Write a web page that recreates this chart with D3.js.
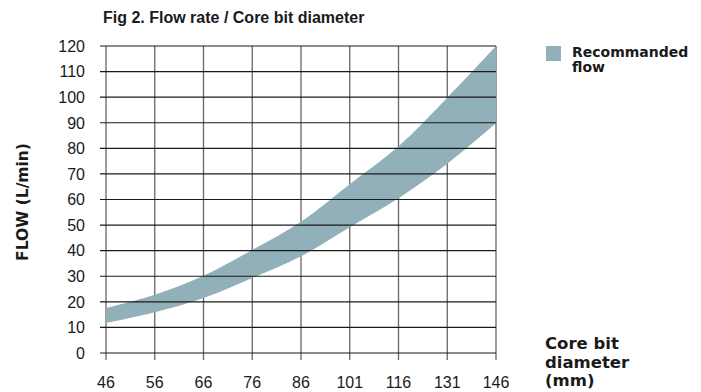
<!DOCTYPE html>
<html>
<head>
<meta charset="utf-8">
<script src="https://cdn.jsdelivr.net/npm/d3@7"></script>
<style>
  html, body { margin: 0; padding: 0; background: #fff; }
  svg { display: block; font-family: "Liberation Sans", Arial, sans-serif; }
</style>
</head>
<body>
<div id="grafico"></div>
<script>
// diametros de corona (mm), espaciados como categorias
const diametros = ["46", "56", "66", "76", "86", "101", "116", "131", "146"];

// caudal recomendado (L/min): limite superior e inferior de la banda
const caudalMax = [17.6, 22.8, 30.2, 40.3, 51.3, 66, 80.8, 99.8, 120];
const caudalMin = [11.7, 15.9, 21.5, 29.3, 37.8, 49.2, 60.5, 74, 89.8];

const ticksY = [0, 10, 20, 30, 40, 50, 60, 70, 80, 90, 100, 110, 120];

const width = 701;
const height = 392;
const margen = { top: 46, right: 205, bottom: 39, left: 106 };
const colorBanda = "#91b0b9";
const negrita = "'DejaVu Sans', sans-serif";

const svg = d3.select("#grafico")
  .append("svg")
  .attr("width", width)
  .attr("height", height);

const x = d3.scalePoint()
  .domain(diametros)
  .range([margen.left, width - margen.right]);

const y = d3.scaleLinear()
  .domain([0, 120])
  .range([height - margen.bottom, margen.top]);

// grilla vertical (gris) con marca bajo el eje
svg.append("g")
  .selectAll("line")
  .data(diametros)
  .join("line")
  .attr("x1", d => x(d))
  .attr("x2", d => x(d))
  .attr("y1", y(120))
  .attr("y2", y(0) + 7)
  .attr("stroke", "#666")
  .attr("stroke-width", 1.3);

// banda de caudal recomendado
const datosBanda = diametros.map((d, i) => ({
  d,
  max: caudalMax[i],
  min: caudalMin[i]
}));

const area = d3.area()
  .x(p => x(p.d))
  .y0(p => y(p.min))
  .y1(p => y(p.max))
  .curve(d3.curveCatmullRom);

svg.append("path")
  .datum(datosBanda)
  .attr("d", area)
  .attr("fill", colorBanda);

// grilla horizontal (negra) con marca a la izquierda
svg.append("g")
  .selectAll("line")
  .data(ticksY)
  .join("line")
  .attr("x1", x("46") - 6)
  .attr("x2", x("146"))
  .attr("y1", d => y(d))
  .attr("y2", d => y(d))
  .attr("stroke", "#1a1a1a")
  .attr("stroke-width", 1.2);

// etiquetas eje Y
svg.append("g")
  .selectAll("text")
  .data(ticksY)
  .join("text")
  .attr("x", 85)
  .attr("y", d => y(d))
  .attr("dy", "0.36em")
  .attr("text-anchor", "end")
  .attr("font-size", 16)
  .attr("fill", "#1a1a1a")
  .text(d => d);

// etiquetas eje X
svg.append("g")
  .selectAll("text")
  .data(diametros)
  .join("text")
  .attr("x", d => x(d))
  .attr("y", 388)
  .attr("text-anchor", "middle")
  .attr("font-size", 16)
  .attr("fill", "#1a1a1a")
  .text(d => d);

// titulo
svg.append("text")
  .attr("x", 103)
  .attr("y", 23)
  .attr("font-size", 16)
  .attr("font-weight", "bold")
  .attr("fill", "#1a1a1a")
  .text("Fig 2. Flow rate / Core bit diameter");

// titulo eje Y
svg.append("text")
  .attr("transform", "translate(28,202) rotate(-90)")
  .attr("text-anchor", "middle")
  .attr("font-family", negrita)
  .attr("font-size", 15.5)
  .attr("font-weight", "bold")
  .attr("fill", "#1a1a1a")
  .text("FLOW (L/min)");

// titulo eje X en tres lineas
svg.append("text")
  .attr("font-family", negrita)
  .attr("font-size", 16.5)
  .attr("font-weight", "bold")
  .attr("fill", "#1a1a1a")
  .selectAll("tspan")
  .data(["Core bit", "diameter", "(mm)"])
  .join("tspan")
  .attr("x", 545)
  .attr("y", (d, i) => 349 + i * 18.5)
  .text(d => d);

// leyenda
svg.append("rect")
  .attr("x", 546)
  .attr("y", 46)
  .attr("width", 15)
  .attr("height", 15)
  .attr("fill", colorBanda);

svg.append("text")
  .attr("font-family", negrita)
  .attr("font-size", 14)
  .attr("font-weight", "bold")
  .attr("fill", "#1a1a1a")
  .selectAll("tspan")
  .data(["Recommanded", "flow"])
  .join("tspan")
  .attr("x", 572)
  .attr("y", (d, i) => 57 + i * 15)
  .text(d => d);
</script>
</body>
</html>
